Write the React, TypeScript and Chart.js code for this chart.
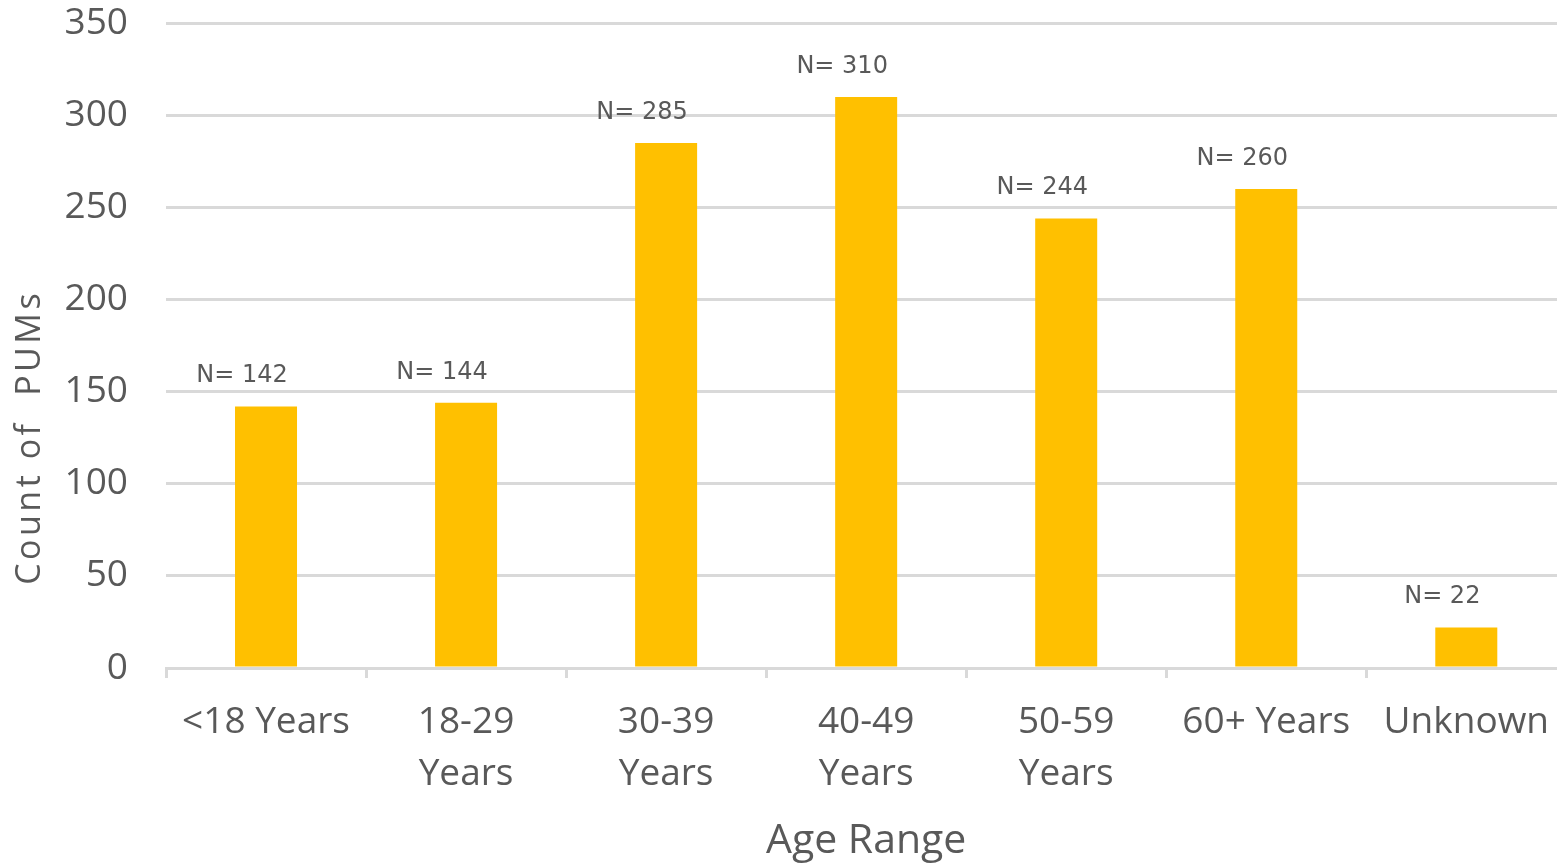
import React, { useEffect, useRef } from "react";
import { Chart, registerables } from "chart.js";

Chart.register(...registerables);

const categories: string[][] = [
  ["<18 Years"],
  ["18-29", "Years"],
  ["30-39", "Years"],
  ["40-49", "Years"],
  ["50-59", "Years"],
  ["60+ Years"],
  ["Unknown"],
];
const counts: number[] = [142, 144, 285, 310, 244, 260, 22];
const yTicks: number[] = [0, 50, 100, 150, 200, 250, 300, 350];
const yTitle = "Count of  PUMs";
const xTitle = "Age Range";

const TEXT = "#595959";
const GRID = "#d9d9d9";
const BAR = "#FFC000";
const UI_FONT = "'Open Sans', 'Noto Sans', sans-serif";
const SHIFT = 37;

const labelPlugin = {
  id: "nLabels",
  afterDatasetsDraw(chart: any) {
    const { ctx } = chart;
    const meta = chart.getDatasetMeta(0);
    ctx.save();
    ctx.fillStyle = TEXT;
    ctx.font = "24px 'DejaVu Sans', Verdana, sans-serif";
    ctx.textAlign = "center";
    ctx.textBaseline = "alphabetic";
    meta.data.forEach((el: any, i: number) => {
      ctx.fillText("N= " + counts[i], el.x - 24, el.y - 24);
    });
    ctx.restore();
  },
};

const yTitlePlugin = {
  id: "yTitleSpaced",
  afterDraw(chart: any) {
    const { ctx, chartArea } = chart;
    ctx.save();
    ctx.fillStyle = TEXT;
    ctx.font = "34px " + UI_FONT;
    ctx.textAlign = "center";
    ctx.textBaseline = "alphabetic";
    const w = ctx.measureText(yTitle).width;
    const extra = Math.max(0, (295 - w) / yTitle.length);
    (ctx as any).letterSpacing = extra.toFixed(2) + "px";
    const cy = chartArea.top + (chartArea.bottom - chartArea.top) * 0.645;
    ctx.translate(40, cy);
    ctx.rotate(-Math.PI / 2);
    ctx.fillText(yTitle, extra / 2, 0);
    ctx.restore();
  },
};

export default function App() {
  const ref = useRef<HTMLCanvasElement | null>(null);
  useEffect(() => {
    if (!ref.current) return;
    const chart = new Chart(ref.current, {
      type: "bar",
      data: {
        labels: categories,
        datasets: [
          {
            data: counts,
            backgroundColor: BAR,
            barPercentage: 0.31,
            categoryPercentage: 1,
          },
        ],
      },
      options: {
        animation: false,
        responsive: false,
        maintainAspectRatio: false,
        layout: { padding: { top: 0, left: 0, right: 0, bottom: 0 } },
        plugins: {
          legend: { display: false },
          tooltip: { enabled: false },
        },
        scales: {
          x: {
            afterFit(scale: any) {
              scale.height = 198;
            },
            grid: {
              display: true,
              drawOnChartArea: false,
              drawTicks: true,
              tickLength: 10,
              color: GRID,
              lineWidth: 3,
              offset: true,
            },
            border: { display: true, color: GRID, width: 3 },
            ticks: {
              color: TEXT,
              font: { family: UI_FONT, size: 37, lineHeight: 1.41 },
              padding: 18,
              maxRotation: 0,
              autoSkip: false,
            },
            title: {
              display: true,
              text: xTitle,
              color: TEXT,
              font: { family: UI_FONT, size: 41 },
              padding: { top: 0, bottom: 0 },
            },
          },
          y: {
            min: 0,
            max: 350,
            afterFit(scale: any) {
              scale.width = 166;
            },
            afterBuildTicks(scale: any) {
              scale.ticks = yTicks.map((v) => ({ value: v }));
            },
            grid: {
              display: true,
              drawTicks: false,
              color: GRID,
              lineWidth: 3,
            },
            border: { display: false },
            ticks: {
              color: TEXT,
              font: { family: UI_FONT, size: 37 },
              padding: 38,
            },
            title: { display: false },
          },
        },
      },
      plugins: [labelPlugin, yTitlePlugin],
    });
    return () => chart.destroy();
  }, []);
  return (
    <div
      style={{
        position: "fixed",
        left: 0,
        top: 0,
        width: 1557,
        height: 866,
        overflow: "hidden",
        background: "#fff",
      }}
    >
      <canvas
        ref={ref}
        width={1567}
        height={866 + SHIFT}
        style={{ position: "absolute", left: 0, top: -SHIFT, width: 1567, height: 866 + SHIFT, display: "block" }}
      />
    </div>
  );
}
